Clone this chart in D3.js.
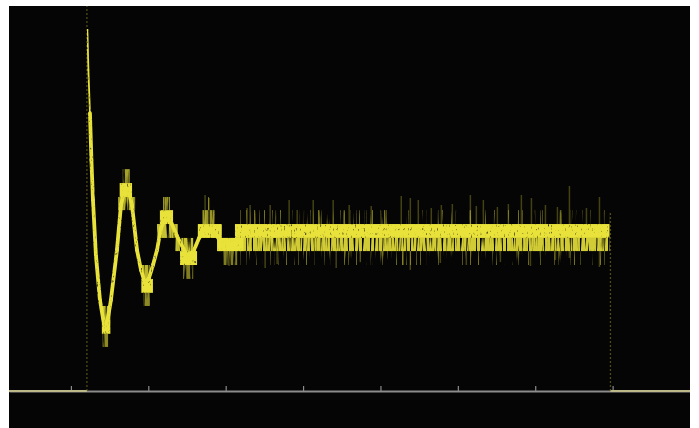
<!DOCTYPE html>
<html>
<head>
<meta charset="utf-8">
<script src="https://cdn.jsdelivr.net/npm/d3@7"></script>
<style>
    body { margin: 0; background: #ffffff; }
    #scope { display: block; }
</style>
</head>
<body>
<div id="scope"></div>
<script>
// Time in divisions, voltage in divisions
const tickTimes = [0, 1, 2, 3, 4, 5, 6, 7];

// Centre of the step-response trace
const traceT = [0.213, 0.226, 0.246, 0.265, 0.285, 0.323, 0.375, 0.414, 0.440, 0.479, 0.517, 0.595, 0.647, 0.699,
    0.750, 0.789, 0.854, 0.906, 0.957, 1.009, 1.061, 1.113, 1.164, 1.229, 1.294, 1.371, 1.449, 1.514, 1.591,
    1.656, 1.734, 1.863, 1.928, 2.031, 2.160, 2.290];
const traceV = [4.683, 4.153, 3.596, 2.988, 2.471, 1.759, 1.177, 0.944, 0.815, 0.944, 1.177, 1.824, 2.406, 2.626,
    2.574, 2.406, 1.824, 1.565, 1.397, 1.462, 1.630, 1.824, 2.109, 2.251, 2.186, 2.005, 1.850, 1.734, 1.824,
    1.979, 2.070, 2.044, 1.940, 1.901, 1.940, 2.070];

// Quantised dwell blocks (start, end, upper level, lower level, density)
const blockStart   = [0.39, 0.40, 0.41, 0.67, 0.63, 0.61, 0.91, 0.91, 0.94, 1.19, 1.15, 1.11, 1.35, 1.41, 1.45,
    1.71, 1.70, 1.64, 1.89, 1.97, 2.12, 1.89, 2.19, 2.19];
const blockEnd     = [0.51, 0.51, 0.48, 0.76, 0.79, 0.83, 1.02, 1.06, 1.02, 1.28, 1.32, 1.38, 1.58, 1.63, 1.58,
    1.84, 1.86, 1.95, 2.23, 2.15, 6.96, 6.96, 6.96, 6.96];
const blockHigh    = [1.10, 0.92, 0.74, 2.87, 2.69, 2.51, 1.63, 1.45, 1.27, 2.51, 2.34, 2.16, 1.98, 1.81, 1.63,
    2.51, 2.34, 2.16, 1.98, 1.81, 2.16, 1.98, 2.34, 1.81];
const blockLow     = [0.92, 0.74, 0.57, 2.69, 2.51, 2.34, 1.45, 1.27, 1.10, 2.34, 2.16, 1.98, 1.81, 1.63, 1.45,
    2.34, 2.16, 1.98, 1.81, 1.63, 1.98, 1.81, 2.16, 1.63];
const blockDensity = [0.6, 1.0, 0.35, 0.45, 1.0, 0.5, 0.55, 1.0, 0.35, 0.4, 1.0, 0.6, 0.6, 1.0, 0.3,
    0.2, 0.4, 1.0, 0.85, 0.3, 1.0, 0.65, 0.15, 0.1];

// Noise spikes seen around the settled level
const streakT = [1.734, 1.785, 2.277, 2.316, 2.575, 2.820, 2.924, 3.131, 3.389, 3.596, 3.881, 4.075, 4.269, 4.386,
    4.489, 4.657, 4.787, 4.929, 5.162, 5.239, 5.330, 5.511, 5.653, 5.821, 5.951, 6.132, 6.287, 6.442, 6.662, 6.830,
    2.044, 2.510, 2.665, 3.428, 3.739, 4.295, 4.386, 5.110, 5.550, 5.938, 6.442, 6.830, 6.261, 4.774];
const streakTop = [2.536, 2.497, 2.367, 2.406, 2.406, 2.471, 2.341, 2.471, 2.471, 2.406, 2.393, 2.341, 2.523, 2.497,
    2.471, 2.367, 2.406, 2.419, 2.536, 2.393, 2.471, 2.380, 2.419, 2.536, 2.497, 2.406, 2.380, 2.652, 2.367, 2.510,
    1.811, 1.811, 1.811, 1.811, 1.811, 1.811, 1.811, 1.811, 1.811, 1.811, 1.811, 1.811, 1.811, 1.811];
const streakBottom = [2.160, 2.160, 2.160, 2.160, 2.160, 2.160, 2.160, 2.160, 2.160, 2.160, 2.160, 2.160, 2.160, 2.160,
    2.160, 2.160, 2.160, 2.160, 2.160, 2.160, 2.160, 2.160, 2.160, 2.160, 2.160, 2.160, 2.160, 2.160, 2.160, 2.160,
    1.617, 1.591, 1.643, 1.591, 1.669, 1.630, 1.565, 1.630, 1.669, 1.617, 1.721, 1.604, 1.695, 1.656];

// Fast edges (trigger rise and end of pulse) and the resting level
const edgeT = [0.207, 6.972];
const edgeTop = [5.0, 2.31];
const restLevel = 0;

const W = 699, H = 428;
const screen = { left: 9, top: 6, right: 690, bottom: 428 };
const yellow = "#e8e23a";

// Phosphor-like noise masks: turbulence turned into alpha
function addNoiseFilter(defs, id, freq, gain, bias, seed) {
    const f = defs.append("filter")
        .attr("id", id)
        .attr("x", 0).attr("y", 0).attr("width", 1).attr("height", 1);
    f.append("feTurbulence")
        .attr("type", "fractalNoise")
        .attr("baseFrequency", freq)
        .attr("numOctaves", 2)
        .attr("seed", seed)
        .attr("result", "noise");
    f.append("feColorMatrix")
        .attr("in", "noise")
        .attr("type", "matrix")
        .attr("values", `0 0 0 0 0  0 0 0 0 0  0 0 0 0 0  ${gain} 0 0 0 ${bias}`)
        .attr("result", "mask");
    f.append("feComposite")
        .attr("in", "SourceGraphic")
        .attr("in2", "mask")
        .attr("operator", "in");
}

function drawScope() {

    const svg = d3.select("#scope")
        .append("svg")
        .attr("width", W)
        .attr("height", H);

    const defs = svg.append("defs");
    addNoiseFilter(defs, "speckle", "0.7 0.25", 3, -0.1, 2);
    addNoiseFilter(defs, "streaky", "0.5 0.02", 5, -1.5, 5);
    addNoiseFilter(defs, "sparse", "0.5 0.015", 6, -3.5, 9);

    svg.append("rect")
        .attr("x", screen.left)
        .attr("y", screen.top)
        .attr("width", screen.right - screen.left)
        .attr("height", screen.bottom - screen.top)
        .attr("fill", "#050505");

    defs.append("clipPath").attr("id", "clip")
        .append("rect")
        .attr("x", screen.left)
        .attr("y", screen.top)
        .attr("width", screen.right - screen.left)
        .attr("height", screen.bottom - screen.top);

    const xScale = d3.scaleLinear()
        .domain([-0.8, 8.0])
        .range([screen.left, screen.right]);

    const yScale = d3.scaleLinear()
        .domain([0, 5])
        .range([391, 391 - 5 * 77.3]);

    const g = svg.append("g").attr("clip-path", "url(#clip)");

    //Axis line with small ticks pointing up
    const axis = d3.axisTop(xScale)
        .tickValues(tickTimes)
        .tickSize(5)
        .tickSizeOuter(0)
        .tickFormat("");

    const ax = g.append("g")
        .attr("transform", `translate(0, ${yScale(0)})`)
        .call(axis);
    ax.select(".domain").attr("stroke", "#8c8c8c").attr("stroke-width", 2);
    ax.selectAll(".tick line").attr("stroke", "#8c8c8c").attr("stroke-width", 1.2);

    //Resting level before and after the pulse
    const rest = [[xScale.domain()[0], edgeT[0]], [edgeT[1], xScale.domain()[1]]];
    g.selectAll(".rest")
        .data(rest)
        .enter()
        .append("line")
        .attr("class", "rest")
        .attr("x1", d => xScale(d[0]))
        .attr("x2", d => xScale(d[1]))
        .attr("y1", yScale(restLevel))
        .attr("y2", yScale(restLevel))
        .attr("stroke", "#bdb888")
        .attr("stroke-width", 2);

    //Fast edges are faint dashed verticals
    g.selectAll(".edge")
        .data(edgeT)
        .enter()
        .append("line")
        .attr("class", "edge")
        .attr("x1", d => xScale(d))
        .attr("x2", d => xScale(d))
        .attr("y1", yScale(restLevel))
        .attr("y2", (d, i) => yScale(edgeTop[i]))
        .attr("stroke", "#8a8530")
        .attr("stroke-opacity", 0.55)
        .attr("stroke-width", 1.3)
        .attr("stroke-dasharray", "2,2");

    //Noise spikes
    g.selectAll(".streak")
        .data(streakT)
        .enter()
        .append("line")
        .attr("class", "streak")
        .attr("x1", d => xScale(d))
        .attr("x2", d => xScale(d))
        .attr("y1", (d, i) => yScale(streakTop[i]))
        .attr("y2", (d, i) => yScale(streakBottom[i]))
        .attr("stroke", yellow)
        .attr("stroke-opacity", 0.28)
        .attr("stroke-width", 1.5);

    //Dwell blocks, noisier when the trace spends less time there
    g.selectAll(".block")
        .data(blockStart)
        .enter()
        .append("rect")
        .attr("class", "block")
        .attr("x", d => xScale(d))
        .attr("y", (d, i) => yScale(blockHigh[i]))
        .attr("width", (d, i) => xScale(blockEnd[i]) - xScale(d))
        .attr("height", (d, i) => yScale(blockLow[i]) - yScale(blockHigh[i]))
        .attr("fill", yellow)
        .attr("fill-opacity", (d, i) => blockDensity[i] < 0.3 ? 0.5 : Math.min(1, blockDensity[i] + 0.25))
        .attr("filter", (d, i) => {
            if (blockDensity[i] >= 0.85) return "url(#speckle)";
            if (blockDensity[i] >= 0.3) return "url(#streaky)";
            return "url(#sparse)";
        });

    //Main trace, drawn segment by segment so the fast first drop stays thin
    const points = d3.zip(traceT, traceV);
    const segments = d3.pairs(points);

    g.append("g")
        .attr("filter", "url(#speckle)")
        .selectAll(".seg")
        .data(segments)
        .enter()
        .append("line")
        .attr("class", "seg")
        .attr("x1", d => xScale(d[0][0]))
        .attr("y1", d => yScale(d[0][1]))
        .attr("x2", d => xScale(d[1][0]))
        .attr("y2", d => yScale(d[1][1]))
        .attr("stroke", yellow)
        .attr("stroke-width", (d, i) => i < 2 ? 1.8 : 3.8)
        .attr("stroke-linecap", "round");
}

drawScope();
</script>
</body>
</html>
